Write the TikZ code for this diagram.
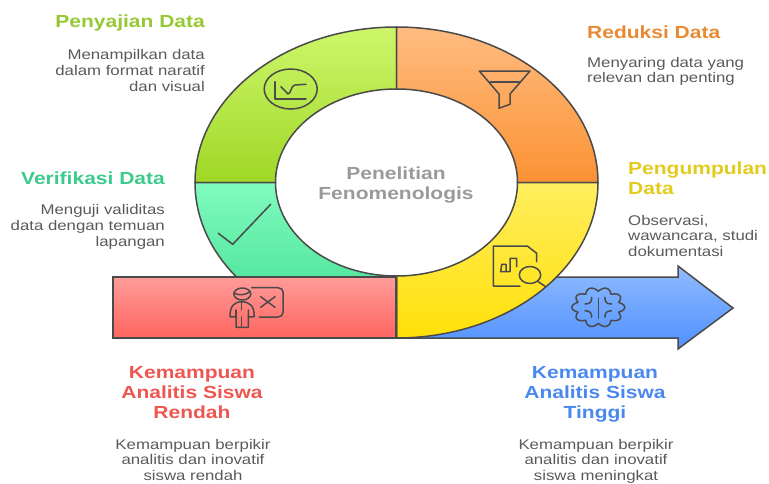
\documentclass[tikz,border=0pt]{standalone}
\usepackage{fontspec}
\setmainfont[FakeStretch=1.2]{Liberation Sans}
\usetikzlibrary{calc}
\definecolor{linegray}{HTML}{4A4A4A}
\definecolor{bodygray}{HTML}{5A5A5A}
\definecolor{blue1}{HTML}{90BBFF}
\definecolor{blue2}{HTML}{4F90FF}
\definecolor{red1}{HTML}{FF9C99}
\definecolor{red2}{HTML}{FF6560}
\definecolor{headgreen}{HTML}{96C832}
\definecolor{headorange}{HTML}{E88A32}
\definecolor{headyellow}{HTML}{E3CB1E}
\definecolor{headteal}{HTML}{3CCB8A}
\definecolor{headred}{HTML}{EE5652}
\definecolor{headblue}{HTML}{4A88F0}
\definecolor{headgray}{HTML}{9A9A9A}
\begin{document}
\begin{tikzpicture}[x=1pt,y=-1pt,
    seg/.style={draw=linegray,line width=1.5pt},
    icon/.style={draw=linegray,line width=1.5pt,line join=round,line cap=round},
    head/.style={font=\bfseries\fontsize{17.5}{20}\selectfont,inner sep=0pt},
    body/.style={font=\fontsize{14}{15.6}\selectfont,text=bodygray,inner sep=0pt}]
  \useasboundingbox (0,0) rectangle (769,483);

  %% Base coordinates of the ring
  \coordinate (mid) at (396.5,182.5);
  \def\rxo{201.5} \def\ryo{155.5}
  \def\rxi{121} \def\ryi{93.5}

  %% Blue arrow goes under the ring
  \path[seg,top color=blue1,bottom color=blue2] (396,277) -- (678,277) -- (678,266) -- (733,308)
    -- (678,349) -- (678,338) -- (396,338) -- cycle;

  %% Each quarter of the ring
  \foreach \from/\to/\ca/\cb in {180/270/CDF76B/9FD726,270/360/FFBC80/FB9234,0/90/FFEE5F/FFE008,90/180/80FBBE/3CDB8D}{
    \definecolor{ca}{HTML}{\ca}
    \definecolor{cb}{HTML}{\cb}
    \path[seg,top color=ca,bottom color=cb] ($(mid)+({\rxo*cos(\from)},{\ryo*sin(\from)})$)
      arc[start angle=\from,end angle=\to,x radius=\rxo,y radius=\ryo]
      -- ($(mid)+({\rxi*cos(\to)},{\ryi*sin(\to)})$)
      arc[start angle=\to,end angle=\from,x radius=\rxi,y radius=\ryi] -- cycle;
  }

  %% Red bar over the ring
  \path[seg,top color=red1,bottom color=red2] (113,277) rectangle (396,338);

  %% Icons
  % chart
  \draw[icon] (290.7,89) ellipse (26.5 and 20);
  \draw[icon] (275,81.7) -- (275,99) -- (306,99);
  \draw[icon] (281,86.7) -- (288,94) .. controls (291,94) and (291,85) .. (295,85) -- (306,84.3);
  % funnel
  \draw[icon] (479.3,71) -- (530,71) -- (510,94) -- (510,104.3) -- (499,108.3) -- (499,94) -- cycle;
  \draw[icon] (490,82) -- (519.3,82);
  % check
  \draw[icon] (218.3,233.3) -- (232.7,244.3) -- (270.7,204.3);
  % person and board
  \draw[icon] (242.3,294) ellipse (8.5 and 6);
  \draw[icon] (234,293) .. controls (240,296) and (245,295) .. (250.5,291.5);
  \draw[icon] (230,316.7) .. controls (230,306) and (234,302) .. (241.7,301.7)
    .. controls (250,302) and (254.3,306) .. (254.3,316.7) -- (248.3,317);
  \draw[icon] (230,316.7) -- (236,317) -- (236,327.3) -- (248.3,327.3) -- (248.3,310);
  \draw[icon] (236,310) -- (236,317) (241.7,301.7) -- (241.7,310) (241.7,317) -- (241.7,327.3);
  \draw[icon] (251.7,287.7) -- (278,287.7) .. controls (281,287.7) and (283,289.7) .. (283,292)
    -- (283,312.5) .. controls (283,315) and (281,317) .. (278,317) -- (259.3,317);
  \draw[icon] (260.7,296.7) -- (275,307.3) (275,296.7) -- (260.7,307.3);
  % document and lens
  \draw[icon] (520,286) -- (493.3,286) -- (493.3,246) -- (527.3,246) -- (536.7,253.3) -- (536.7,261.7);
  \draw[icon] (500.7,271.7) -- (501.7,264.3) -- (506,264.3) -- (506,271.7)
    (500.7,271.7) -- (510,271.7) -- (510,258.3) -- (516.7,258.3) -- (516.7,266.7);
  \draw[icon] (530,275) ellipse (10.7 and 8.5);
  \draw[icon] (538.3,281.7) -- (545.7,286.7);
  % brain
  \draw[icon] plot[smooth cycle,samples=80,domain=0:356] ({598.3+26.5*(.8+.2*abs(sin(5*(\x-90))))*cos(\x)},{307.3+20*(.8+.2*abs(sin(5*(\x-90))))*sin(\x)});
  \draw[icon] (598.3,298.3) -- (598.3,318.3);
  \foreach \sx in {-1,1}{
    \draw[icon] ({598.3+\sx*13.3},304) .. controls ({598.3+\sx*8},304) and ({598.3+\sx*6.6},302) .. ({598.3+\sx*6.6},297.3);
    \draw[icon] ({598.3+\sx*13.3},310.7) .. controls ({598.3+\sx*8},311) and ({598.3+\sx*6.6},313) .. ({598.3+\sx*6.6},317.3);
  }

  %% Texts
  \node[head,text=headgray,align=center] (centre) at (396,185) {Penelitian\\Fenomenologis};

  \node[head,anchor=east,text=headgreen] (penyajian) at (205,23) {Penyajian Data};
  \node[body,anchor=north east,align=right] (penyajiantext) at (205,49.5) {Menampilkan data\\dalam format naratif\\dan visual};

  \node[head,anchor=west,text=headorange] (reduksi) at (587,32) {Reduksi Data};
  \node[body,anchor=north west,align=left] (reduksitext) at (587,57) {Menyaring data yang\\relevan dan penting};

  \node[head,anchor=north west,align=left,text=headyellow] (kumpul) at (628,162) {Pengumpulan\\Data};
  \node[body,anchor=north west,align=left] (kumpultext) at (628,215) {Observasi,\\wawancara, studi\\dokumentasi};

  \node[head,anchor=east,text=headteal] (verifikasi) at (165,178) {Verifikasi Data};
  \node[body,anchor=north east,align=right] (verifikasitext) at (165,204.5) {Menguji validitas\\data dengan temuan\\lapangan};

  \node[head,anchor=north,align=center,text=headred] (rendah) at (192,366) {Kemampuan\\Analitis Siswa\\Rendah};
  \node[body,anchor=north,align=center] (rendahtext) at (193,439) {Kemampuan berpikir\\analitis dan inovatif\\siswa rendah};

  \node[head,anchor=north,align=center,text=headblue] (tinggi) at (595,366) {Kemampuan\\Analitis Siswa\\Tinggi};
  \node[body,anchor=north,align=center] (tinggitext) at (596,439) {Kemampuan berpikir\\analitis dan inovatif\\siswa meningkat};
\end{tikzpicture}
\end{document}
